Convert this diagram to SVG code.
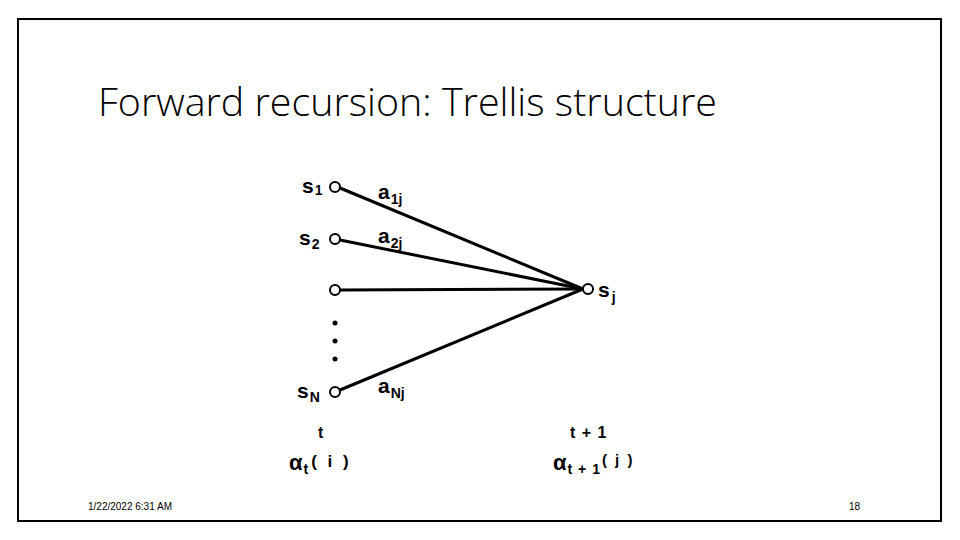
<svg xmlns="http://www.w3.org/2000/svg" width="960" height="540" viewBox="0 0 960 540">
<style>
.lbl{font-family:"Liberation Sans",Arial,sans-serif;font-weight:bold;fill:#000}
.edge{stroke:#000;stroke-width:3;fill:none}
.node{fill:#fff;stroke:#000;stroke-width:2}
</style>
<rect x="0" y="0" width="960" height="540" fill="#fff"/>
<rect x="18" y="19" width="923" height="502" fill="none" stroke="#000" stroke-width="2"/>
<text x="98" y="116" font-family="'Open Sans','DejaVu Sans',sans-serif" font-size="38" font-weight="300" textLength="619" lengthAdjust="spacingAndGlyphs">Forward recursion: Trellis structure</text>
<g id="connectors">
<line class="edge" x1="340" y1="188" x2="583" y2="289"/>
<line class="edge" x1="340" y1="240" x2="583" y2="289"/>
<line class="edge" x1="340" y1="290" x2="583" y2="289"/>
<line class="edge" x1="340" y1="390" x2="583" y2="289"/>
</g>
<g id="s1"><circle class="node" cx="335" cy="187" r="5"/><text class="lbl" x="302" y="193" font-size="21">s<tspan font-size="14" dx="1" dy="2">1</tspan></text></g>
<g id="s2"><circle class="node" cx="335" cy="239" r="5"/><text class="lbl" x="299" y="245" font-size="21">s<tspan font-size="14" dx="1" dy="4">2</tspan></text></g>
<g id="s3"><circle class="node" cx="335" cy="290" r="5"/></g>
<g id="dots"><circle cx="335" cy="323" r="2.5"/><circle cx="335" cy="341" r="2.5"/><circle cx="335" cy="359" r="2.5"/></g>
<g id="sN"><circle class="node" cx="335" cy="392" r="5"/><text class="lbl" x="297" y="398" font-size="21">s<tspan font-size="14" dx="1" dy="4">N</tspan></text></g>
<g id="sj"><circle class="node" cx="588" cy="289" r="5"/><text class="lbl" x="598" y="297" font-size="21">s<tspan font-size="14" dx="2" dy="5">j</tspan></text></g>
<g id="labels">
<text class="lbl" x="378" y="199" font-size="21">a<tspan font-size="14" dx="1" dy="5">1j</tspan></text>
<text class="lbl" x="378" y="243" font-size="21">a<tspan font-size="14" dx="1" dy="5">2j</tspan></text>
<text class="lbl" x="378" y="393" font-size="21">a<tspan font-size="14" dx="1" dy="5">Nj</tspan></text>
<text class="lbl" x="318" y="438" font-size="16">t</text>
<text class="lbl" x="570" y="438" font-size="16" letter-spacing="1">t + 1</text>
<text class="lbl" x="289" y="470" font-size="22">α<tspan font-size="14" dx="1" dy="4">t</tspan><tspan font-size="17" dx="3" dy="-7" letter-spacing="3">( i )</tspan></text>
<text class="lbl" x="553" y="470" font-size="22">α<tspan font-size="14" dx="1" dy="4" letter-spacing="1">t + 1</tspan><tspan font-size="15" dx="1" dy="-9" letter-spacing="2">( j )</tspan></text>
</g>
<text x="88" y="510" font-family="'Liberation Sans',sans-serif" font-size="10">1/22/2022 6:31 AM</text>
<text x="849" y="510" font-family="'Liberation Sans',sans-serif" font-size="10">18</text>
</svg>
